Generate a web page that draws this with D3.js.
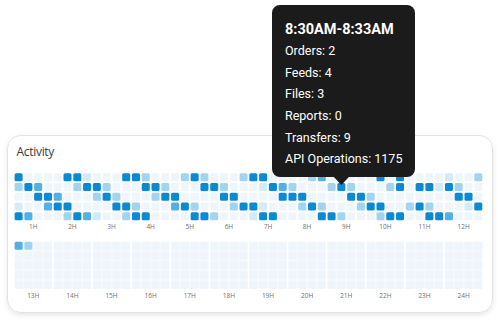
<!DOCTYPE html>
<html>
<head>
<meta charset="utf-8">
<script src="https://cdn.jsdelivr.net/npm/d3@7"></script>
<style>
  html, body { margin: 0; padding: 0; background: #fff; }
  svg { display: block; }
</style>
</head>
<body>
<svg id="chart" width="500" height="325"></svg>
<script>
// Hour labels for the two halves of the day
const morningHours = ["1H","2H","3H","4H","5H","6H","7H","8H","9H","10H","11H","12H"];
const eveningHours = ["13H","14H","15H","16H","17H","18H","19H","20H","21H","22H","23H","24H"];

// Activity level per 3-minute slot: 5 rows x 48 columns (4 columns per hour)
const morningRows = [
  [4,0,0,0,0,4,4,1,0,0,0,4,4,2,0,0,0,2,4,2,0,0,0,2,4,4,0,0,0,0,2,3,0,0,0,0,0,4,0,4,0,0,0,0,1,0,0,2],
  [2,4,3,0,0,0,2,4,4,2,0,0,0,4,4,2,0,0,0,4,4,2,0,0,0,1,4,3,2,0,0,0,2,4,2,0,0,0,2,4,0,4,4,1,4,2,0,0],
  [0,0,4,4,3,0,0,0,2,4,2,0,0,0,2,4,4,0,0,0,0,4,4,0,0,0,0,4,4,4,0,0,0,0,4,4,2,0,0,0,0,0,0,0,0,4,4,0],
  [1,0,0,3,4,4,0,0,0,0,4,4,2,0,0,0,3,4,2,0,0,0,2,4,4,1,0,0,0,2,4,2,0,0,0,2,4,4,0,0,2,4,2,0,0,0,1,4],
  [4,3,0,0,0,2,4,3,1,0,0,2,4,4,0,0,0,0,4,4,2,0,0,0,1,4,4,0,0,0,0,4,4,2,0,0,0,2,4,4,0,0,4,4,3,0,0,0]
];
// Afternoon/evening: only the first two slots have been recorded so far
const eveningRows = [
  [3,2].concat(new Array(46).fill(null)),
  new Array(48).fill(null),
  new Array(48).fill(null),
  new Array(48).fill(null),
  new Array(48).fill(null)
];

// Tooltip content for the highlighted slot
const tipTitle = "8:30AM-8:33AM";
const tipLabels = ["Orders","Feeds","Files","Reports","Transfers","API Operations"];
const tipValues = [2,4,3,0,9,1175];
const tipCell = { col: 33, row: 0 };

const svg = d3.select("#chart");
const defs = svg.append("defs");
const shadow = defs.append("filter").attr("id","cardShadow")
  .attr("x","-5%").attr("y","-5%").attr("width","110%").attr("height","115%");
shadow.append("feDropShadow").attr("dx",0).attr("dy",2).attr("stdDeviation",2.5)
  .attr("flood-color","#000").attr("flood-opacity",0.10);

// Card
svg.append("rect")
  .attr("x",7.5).attr("y",135.5).attr("width",485).attr("height",177)
  .attr("rx",13).attr("fill","#fff").attr("stroke","#e3e3e3").attr("stroke-width",1)
  .attr("filter","url(#cardShadow)");

svg.append("text")
  .attr("x",16.5).attr("y",155.5)
  .attr("font-family","'Open Sans', sans-serif").attr("font-size",12)
  .attr("letter-spacing",-0.3)
  .attr("fill","#3a3a3a").text("Activity");

const cols = d3.range(48);
const x = d3.scaleBand().domain(cols).range([14.6, 482.3]).paddingInner(0.18);
const y = d3.scaleBand().domain(d3.range(5)).range([0, 47]).paddingInner(0.18);

const color = d3.scaleOrdinal().domain([0,1,2,3,4])
  .range(["#eef6fc","#d3eaf8","#a2d3f1","#52b0e4","#0a89d4"]);
const emptyColor = "#eef5fb";
const emptyBlock = "#f4f9fd";

function hourSpan(i) {
  const x0 = x(i*4), x1 = x(i*4+3) + x.bandwidth();
  return [x0, x1];
}

function drawSection(rows, labels, top, labelY) {
  const g = svg.append("g").attr("transform",`translate(0,${top})`);
  // pale backing for hours that still have unrecorded slots
  const emptyHours = d3.range(12).filter(h =>
    rows.some(r => r.slice(h*4, h*4+4).some(v => v == null)));
  g.selectAll("rect.block").data(emptyHours).join("rect").attr("class","block")
    .attr("x", h => hourSpan(h)[0]).attr("y", 0)
    .attr("width", h => hourSpan(h)[1] - hourSpan(h)[0])
    .attr("height", y(4) + y.bandwidth())
    .attr("fill", emptyBlock);
  const cells = [];
  rows.forEach((r, ri) => r.forEach((v, ci) => cells.push({ row: ri, col: ci, v })));
  g.selectAll("rect.cell").data(cells).join("rect").attr("class","cell")
    .attr("x", d => x(d.col)).attr("y", d => y(d.row))
    .attr("width", x.bandwidth()).attr("height", y.bandwidth())
    .attr("rx",1.5)
    .attr("fill", d => d.v == null ? emptyColor : color(d.v));
  svg.append("g").selectAll("text").data(labels).join("text")
    .attr("x", (d,i) => (hourSpan(i)[0] + hourSpan(i)[1]) / 2)
    .attr("y", labelY)
    .attr("text-anchor","middle")
    .attr("font-family","'Open Sans', sans-serif").attr("font-size",6.5)
    .attr("fill","#6f6f6f").text(d => d);
}

const morningTop = 173.3, eveningTop = 241.7;
drawSection(morningRows, morningHours, morningTop, 229.4);
drawSection(eveningRows, eveningHours, eveningTop, 297.8);

// Tooltip anchored above the hovered slot
const tipX = x(tipCell.col) + x.bandwidth()/2;
const tipY = morningTop + y(tipCell.row + 1) + 2;
const bx0 = 272, bx1 = 415, by0 = 5, by1 = tipY - 8, rr = 8, aw = 7.5;
const p = d3.path();
p.moveTo(bx0 + rr, by0);
p.lineTo(bx1 - rr, by0);
p.arcTo(bx1, by0, bx1, by0 + rr, rr);
p.lineTo(bx1, by1 - rr);
p.arcTo(bx1, by1, bx1 - rr, by1, rr);
p.lineTo(tipX + aw, by1);
p.lineTo(tipX, tipY);
p.lineTo(tipX - aw, by1);
p.lineTo(bx0 + rr, by1);
p.arcTo(bx0, by1, bx0, by1 - rr, rr);
p.lineTo(bx0, by0 + rr);
p.arcTo(bx0, by0, bx0 + rr, by0, rr);
p.closePath();
svg.append("path").attr("d", p.toString()).attr("fill","#1b1b1b");

svg.append("text").attr("x",285).attr("y",33.5)
  .attr("font-family","Roboto, sans-serif").attr("font-weight",700).attr("font-size",14.5)
  .attr("fill","#fff").text(tipTitle);
svg.append("g").selectAll("text").data(tipLabels).join("text")
  .attr("x",285).attr("y",(d,i) => 55.2 + i*21.6)
  .attr("font-family","Roboto, sans-serif").attr("font-size",12.5)
  .attr("fill","#fff").text((d,i) => `${d}: ${tipValues[i]}`);
</script>
</body>
</html>
